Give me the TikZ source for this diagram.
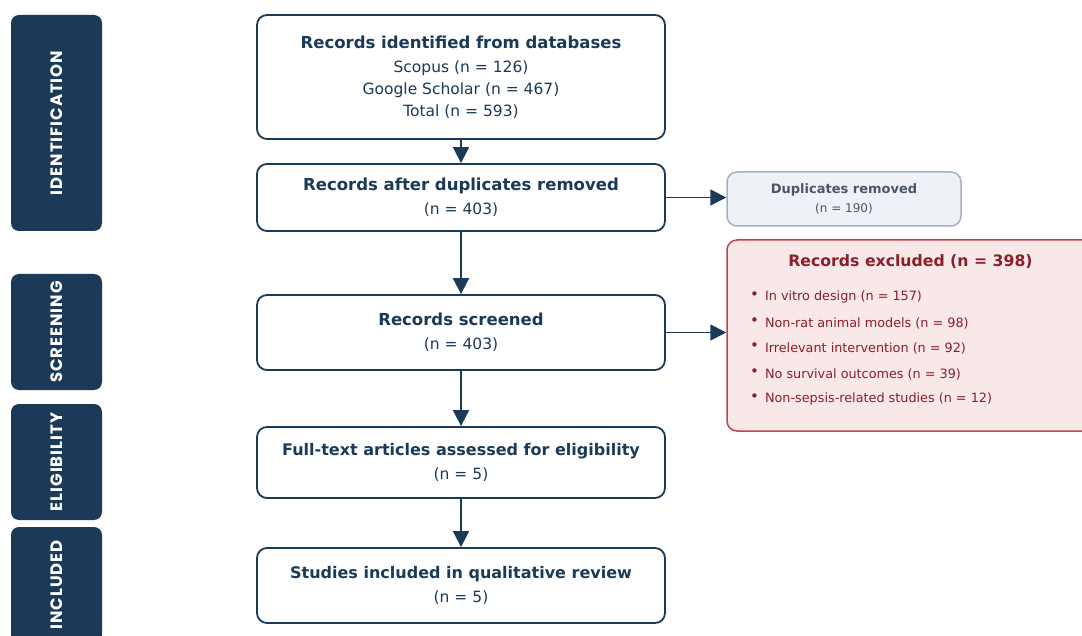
\documentclass[tikz,border=0pt]{standalone}
\usepackage{fontspec}
\setmainfont{DejaVu Sans}
\newfontfamily\phasefont[LetterSpace=6]{Poppins}
\usetikzlibrary{arrows.meta, positioning}

\definecolor{navy}{HTML}{1B3A57}
\definecolor{dupfill}{HTML}{EEF2F7}
\definecolor{dupline}{HTML}{A3B1C6}
\definecolor{duptext}{HTML}{4A5568}
\definecolor{exfill}{HTML}{F9E8E8}
\definecolor{exline}{HTML}{C04450}
\definecolor{extext}{HTML}{8B1E2B}

\tikzset{
  phase/.style={fill=navy, rounded corners=8pt, rotate=90, minimum height=91pt,
    inner sep=0pt, text=white, font=\phasefont\bfseries\fontsize{16.5}{16.5}\selectfont},
  stage/.style={draw=navy, line width=1.8pt, rounded corners=10pt, fill=white,
    minimum width=408pt, text=navy, align=center, font=\fontsize{15.5}{22}\selectfont},
  flow/.style={navy, line width=1.8pt, -{Triangle[length=16pt,width=16pt]}},
  exitem/.style={anchor=west, text=extext, font=\fontsize{12.8}{15}\selectfont},
}
\newcommand{\exdot}{\raisebox{1.5pt}{\fontsize{15}{15}\selectfont•}\hspace{6pt}}

\begin{document}
\begin{tikzpicture}[x=1pt,y=-1pt]\large
    \useasboundingbox (0,0) rectangle (1082,636);

    % phases
    \node[phase, minimum width=216pt] (pid) at (56.5,123) {IDENTIFICATION};
    \node[phase, minimum width=116pt] (psc) at (56.5,332) {SCREENING};
    \node[phase, minimum width=116pt] (pel) at (56.5,462) {ELIGIBILITY};
    \node[phase, minimum width=116pt] (pin) at (56.5,585) {INCLUDED};

    % main flow
    \node[stage, minimum height=124pt] (rec) at (461,77)
        {{\bfseries\fontsize{16.5}{22}\selectfont Records identified from databases}\\[2pt]
         Scopus (n = 126)\\ Google Scholar (n = 467)\\ Total (n = 593)};
    \node[stage, minimum height=67pt] (dedup) at (461,197.5)
        {{\bfseries\fontsize{16.5}{22}\selectfont Records after duplicates removed}\\[2pt] (n = 403)};
    \node[stage, minimum height=75pt] (scr) at (461,332.5)
        {{\bfseries\fontsize{16.5}{22}\selectfont Records screened}\\[2pt] (n = 403)};
    \node[stage, minimum height=71pt] (full) at (461,462.5)
        {{\bfseries\fontsize{16}{22}\selectfont Full-text articles assessed for eligibility}\\[2pt] (n = 5)};
    \node[stage, minimum height=75pt] (incl) at (461,585.5)
        {{\bfseries\fontsize{16}{22}\selectfont Studies included in qualitative review}\\[2pt] (n = 5)};

    % side boxes
    \node[draw=dupline, fill=dupfill, line width=1.5pt, rounded corners=10pt,
          minimum width=234pt, minimum height=54pt, align=center, text=duptext]
        (dup) at (844,199)
        {{\fontsize{13}{16}\selectfont\bfseries Duplicates removed}\\[5pt]
         {\fontsize{12}{14}\selectfont (n = 190)}};
    \node[draw=exline, fill=exfill, line width=1.5pt, rounded corners=10pt,
          minimum width=368pt, minimum height=191pt] (excl) at (911,335.5) {};
    \node[text=extext, font=\bfseries\fontsize{15.7}{18}\selectfont]
        (exhead) at (910.5,262) {Records excluded (n = 398)};
    \node[exitem] (ex1) at (746,297) {\exdot In vitro design (n = 157)};
    \node[exitem] (ex2) at (746,323) {\exdot Non-rat animal models (n = 98)};
    \node[exitem] (ex3) at (746,348) {\exdot Irrelevant intervention (n = 92)};
    \node[exitem] (ex4) at (746,374) {\exdot No survival outcomes (n = 39)};
    \node[exitem] (ex5) at (746,399) {\exdot Non-sepsis-related studies (n = 12)};

    \draw[flow] (rec) -- (dedup);
    \draw[flow] (dedup) -- (scr);
    \draw[flow] (scr) -- (full);
    \draw[flow] (full) -- (incl);
    \draw[flow] (dedup.east) -- (dedup.east -| dup.west);
    \draw[flow] (scr.east) -- (scr.east -| excl.west);
\end{tikzpicture}
\end{document}
